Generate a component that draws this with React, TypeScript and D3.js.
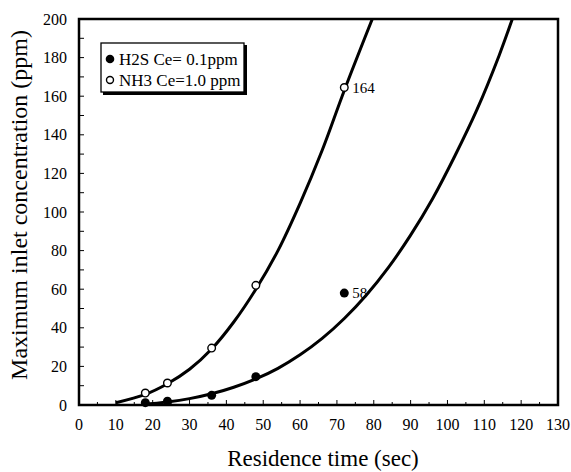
import React from 'react';
import { scaleLinear, line, curveCatmullRom, range } from 'd3';

// measured points
const nh3X = [18, 24, 36, 48, 72];
const nh3Y = [6.2, 11.4, 29.5, 62, 164.5];
const h2sX = [18, 24, 36, 48, 72];
const h2sY = [1.2, 2, 5, 14.7, 58];

// fitted curves
const nh3FitX = [10, 18, 24, 30, 36, 42, 48, 54, 60, 66, 72, 79.6];
const nh3FitY = [1.2, 5.5, 11, 18.5, 29, 43, 60, 80, 104.5, 132, 163, 200];
const h2sFitX = [17, 24, 30, 36, 42, 48, 54, 60, 66, 72, 78, 84, 90, 96, 102, 108, 114, 117.6];
const h2sFitY = [0.3, 1.6, 3.3, 5.8, 9.2, 13.5, 19, 26, 34.5, 44.8, 57, 71.3, 88, 107, 129, 153, 181, 200];

const xTicks = range(0, 131, 10);
const yTicks = range(0, 201, 20);

const W = 571, H = 472;
const left = 79, right = 558, top = 19, bottom = 405;
const serif = '"Liberation Serif", "Times New Roman", serif';

export default function App() {
  const x = scaleLinear().domain([0, 130]).range([left, right]);
  const y = scaleLinear().domain([0, 200]).range([bottom, top]);

  const fit = (xs: number[], ys: number[]) =>
    line<[number, number]>()
      .x(d => x(d[0]))
      .y(d => y(d[1]))
      .curve(curveCatmullRom)(xs.map((v, i) => [v, ys[i]]));

  return (
    <svg width={W} height={H} style={{ position: 'absolute', left: 0, top: 0, background: '#fff' }}>
      <defs>
        <clipPath id="plot">
          <rect x={left} y={top} width={right - left} height={bottom - top} />
        </clipPath>
      </defs>

      {/* minor ticks */}
      {range(5, 130, 5).map(t => (
        <line key={'xt' + t} x1={x(t)} x2={x(t)} y1={bottom} y2={bottom - (t % 10 === 0 ? 5 : 3)}
          stroke="#000" strokeWidth={1} />
      ))}
      {range(10, 200, 10).map(t => (
        <line key={'yt' + t} x1={left} x2={left + 5} y1={y(t)} y2={y(t)} stroke="#000" strokeWidth={1} />
      ))}

      {/* frame */}
      <rect x={left} y={top} width={right - left} height={bottom - top} fill="none" stroke="#000" strokeWidth={2.5} />

      {/* fitted curves */}
      <g clipPath="url(#plot)" fill="none" stroke="#000" strokeWidth={3}>
        <path d={fit(nh3FitX, nh3FitY) || ''} />
        <path d={fit(h2sFitX, h2sFitY) || ''} />
      </g>

      {/* data */}
      {h2sX.map((v, i) => (
        <circle key={'h' + i} cx={x(v)} cy={y(h2sY[i])} r={4.5} fill="#000" />
      ))}
      {nh3X.map((v, i) => (
        <circle key={'n' + i} cx={x(v)} cy={y(nh3Y[i])} r={3.8} fill="#fff" stroke="#000" strokeWidth={1.4} />
      ))}

      <text x={x(72) + 8} y={y(164.5)} dy="0.35em" fontFamily={serif} fontSize={15}>164</text>
      <text x={x(72) + 8} y={y(58)} dy="0.35em" fontFamily={serif} fontSize={15}>58</text>

      {/* tick labels */}
      {xTicks.map(t => (
        <text key={'xl' + t} x={x(t)} y={bottom + 25} textAnchor="middle" fontFamily={serif} fontSize={16}>{t}</text>
      ))}
      {yTicks.map(t => (
        <text key={'yl' + t} x={left - 12} y={y(t)} dy="0.35em" textAnchor="end" fontFamily={serif} fontSize={16}>{t}</text>
      ))}

      {/* axis titles */}
      <text x={323} y={H - 6} textAnchor="middle" fontFamily={serif} fontSize={23}>Residence time (sec)</text>
      <text transform="translate(27, 205) rotate(-90)" textAnchor="middle"
        fontFamily={serif} fontSize={24}>Maximum inlet concentration (ppm)</text>

      {/* legend */}
      <rect x={103} y={45} width={144} height={50} fill="#000" />
      <rect x={101} y={43} width={143} height={49} fill="#fff" stroke="#000" strokeWidth={1.3} />
      <circle cx={110} cy={59} r={4.3} fill="#000" />
      <text x={119} y={59} dy="0.35em" fontFamily={serif} fontSize={17}>H2S Ce= 0.1ppm</text>
      <circle cx={110} cy={80} r={3.5} fill="#fff" stroke="#000" strokeWidth={1.4} />
      <text x={119} y={80} dy="0.35em" fontFamily={serif} fontSize={17}>NH3 Ce=1.0 ppm</text>
    </svg>
  );
}
